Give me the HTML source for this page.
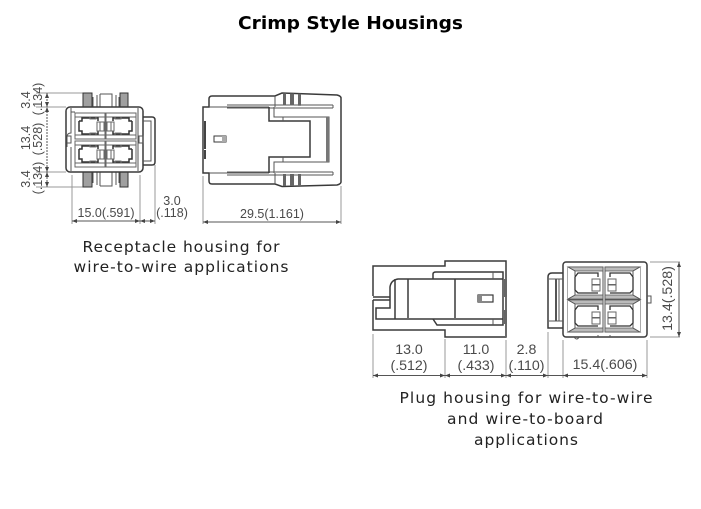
<!DOCTYPE html>
<html><head><meta charset="utf-8"><style>
html,body{margin:0;padding:0;background:#fff;width:701px;height:509px;overflow:hidden}
svg{display:block}
.t{font-family:"DejaVu Sans",sans-serif;font-size:15.500px;fill:#222}
.d{font-family:"Liberation Sans",sans-serif;font-size:12.5px;fill:#4a4a4a}
.e{font-family:"Liberation Sans",sans-serif;font-size:14.2px;fill:#4a4a4a}
.l{fill:none;stroke:#555;stroke-width:1}
.h{fill:none;stroke:#3a3a3a;stroke-width:1.5}
.g{fill:none;stroke:#999;stroke-width:1}
.a{fill:#444;stroke:none}
</style></head><body>
<svg width="701" height="509" viewBox="0 0 701 509" xmlns="http://www.w3.org/2000/svg">
<defs>
<g id="c1">
  <rect x="0" y="0" width="30" height="26" fill="none" stroke="#666" stroke-width="1"/>
  <path d="M0 4H30M0 22H30" fill="none" stroke="#666" stroke-width="1"/>
  <path d="M4 8H7V5H23V8M4 8V18H7V21H23V18" fill="none" stroke="#333" stroke-width="1.5"/>
  <rect x="22" y="9" width="7" height="9" fill="none" stroke="#666"/>
  <path d="M25 9V18" stroke="#666"/>
  <path d="M15 4V6H21V4M15 22V20H21V22" fill="none" stroke="#777"/>
</g>
<g id="c2">
  <rect x="0" y="0" width="35" height="32" fill="none" stroke="#555" stroke-width="1"/>
  <path d="M0 0L7 4H35V0ZM0 32L7 28H35V32Z" fill="#bbb" stroke="#555" stroke-width=".8"/>
  <path d="M0 0L7 4V28L0 32" fill="#fff" stroke="#555" stroke-width="1"/>
  <path d="M7 10L10 6H30V10M7 10V23L10 26H30" fill="none" stroke="#333" stroke-width="1.3"/>
  <rect x="24" y="12" width="8" height="5.500" fill="none" stroke="#666"/>
  <rect x="24" y="18" width="8" height="6" fill="none" stroke="#666"/>
</g>
</defs>

<text x="350.500" y="29" text-anchor="middle" font-family="'DejaVu Sans',sans-serif" font-weight="bold" font-size="18" fill="#000" textLength="225" lengthAdjust="spacingAndGlyphs">Crimp Style Housings</text>

<!-- left front view -->
<g>
  <path class="g" d="M36 93H83M36 107H66M36 172H66M36 187H83"/>
  <path class="l" d="M47 93V187" stroke-dasharray="2 1"/>
  <path d="M47 93l-2 5h4zM47 107l-2-5h4zM47 107l-2 5h4zM47 172l-2-5h4zM47 172l-2 5h4zM47 187l-2-5h4z" class="a"/>
  <rect x="83" y="93" width="9" height="14" fill="#a0a0a0" stroke="#333"/>
  <rect x="120" y="93" width="8" height="14" fill="#a0a0a0" stroke="#333"/>
  <rect x="83" y="172" width="9" height="15" fill="#a0a0a0" stroke="#333"/>
  <rect x="120" y="172" width="8" height="15" fill="#a0a0a0" stroke="#333"/>
  <path class="l" d="M93 97V107M97 95V107M100 94H112V107M100 94V107M116 95V107M119 97V107"/>
  <path class="l" d="M93 172V183M97 172V185M100 186H112V172M100 186V172M116 172V185M119 172V183"/>
  <rect x="66" y="107" width="77" height="65" rx="4" fill="none" stroke="#3a3a3a" stroke-width="1.5"/>
  <path class="l" d="M71 108V133Q67 133 67 137V147M71 147V171M71 112H75"/>
  <rect x="67" y="136" width="4" height="7" class="l"/>
  <rect x="139" y="136" width="4" height="7" class="l"/>
  <path class="l" d="M138 108V171"/>
  <path class="h" d="M143 117H152Q155 117 155 120V162Q155 165 152 165H143"/>
  <path class="l" d="M143 121H151V161H143"/>
  <use href="#c1" x="75" y="113"/>
  <g transform="translate(136 113) scale(-1 1)"><use href="#c1"/></g>
  <use href="#c1" x="75" y="141"/>
  <g transform="translate(136 141) scale(-1 1)"><use href="#c1"/></g>
</g>
<!-- left dims -->
<text class="d" transform="translate(30 100) rotate(-90)" text-anchor="middle">3.4</text>
<text class="d" transform="translate(42 99) rotate(-90)" text-anchor="middle">(.134)</text>
<text class="d" transform="translate(30 138) rotate(-90)" text-anchor="middle">13.4</text>
<text class="d" transform="translate(42 139) rotate(-90)" text-anchor="middle">(.528)</text>
<text class="d" transform="translate(30 179) rotate(-90)" text-anchor="middle">3.4</text>
<text class="d" transform="translate(42 178) rotate(-90)" text-anchor="middle">(.134)</text>
<path class="g" d="M72 175V224M140 175V224M155 165V224"/>
<path class="l" d="M72 221H155"/>
<path class="a" d="M72 221l5-2v4zM140 221l-5-2v4zM140 221l5-2v4zM155 221l-5-2v4z"/>
<text class="d" x="106" y="217" text-anchor="middle">15.0(.591)</text>
<text class="d" x="172" y="205" text-anchor="middle">3.0</text>
<text class="d" x="172" y="217" text-anchor="middle">(.118)</text>

<!-- side view -->
<g>
  <path class="h" d="M203 107H209V99Q209 96 212 96H275L282 93L337 95Q341 96 341 98V182Q341 184 337 185L282 186.500L275 184H212Q209 184 209 181V173H203Z"/>
  <path class="l" d="M227 105H333M227 108H333M227 172H333M227 175H333M333 105V108M333 172V175"/>
  <path class="l" d="M209 107H269M209 173H269"/>
  <path class="l" d="M275 96V107M275 184V173"/>
  <path d="M283 93.300h3v12h-3zM290 93.500h4v12h-4zM298 93.700h3v12h-3zM283 174h3v12h-3zM290 174h4v12h-4zM298 174h3v12h-3z" fill="#666"/>
  <path class="h" d="M269 107V121H310V157H269V173"/>
  <path class="l" d="M274 107V117H283V121M274 173V162H283V157"/>
  <path class="l" d="M283 117H329V162H283"/>
  <rect x="326" y="117" width="3" height="45" fill="#777"/>
  <rect x="214" y="136" width="12" height="6" fill="none" stroke="#3a3a3a" stroke-width="1"/>
  <rect x="222" y="136" width="4" height="6" fill="#aaa"/>
  <path class="a" d="M204 121h2v28h-2zM204 150h2v9h-2z"/>
</g>
<path class="g" d="M203 176V224M341 186V224"/>
<path class="l" d="M203 222H341"/>
<path class="a" d="M203 222l5-2v4zM341 222l-5-2v4z"/>
<text class="d" x="272" y="218" text-anchor="middle">29.5(1.161)</text>

<text class="t" x="181" y="252" text-anchor="middle" textLength="197">Receptacle housing for</text>
<text class="t" x="181" y="272" text-anchor="middle" textLength="215">wire-to-wire applications</text>

<!-- plug side -->
<g>
  <path class="h" d="M373 296V266H445V261H506V337H445V330H373V300"/>
  <path class="h" d="M373 297H390M373 300H390"/>
  <path class="h" d="M390 297V308H376V319H395M390 297V287Q391 280 398 279H503M395 279V319M395 319H503"/>
  <path class="h" d="M408 279V318M455 279V318"/>
  <path class="h" d="M433 279V274Q433 272 436 272H503V325H437L433 319"/>
  <path class="l" d="M493 272V279M493 319V325"/>
  <rect x="478" y="295" width="15" height="7" fill="none" stroke="#3a3a3a" stroke-width="1.2"/>
  <rect x="478" y="295" width="4" height="7" fill="#888"/>
  <path d="M504 279h3v18h-3zM504 310h3v14h-3zM480 336h26v2h-26z" fill="#666"/>
</g>
<path class="g" d="M373 334V378M445 339V378M506 340V378M548 332V378M563 340V378M647 340V378"/>
<path class="l" d="M373 375.500H647"/>
<path class="a" d="M373 375.500l5-2v4zM445 375.500l-5-2v4zM445 375.500l5-2v4zM506 375.500l-5-2v4zM506 375.500l5-2v4zM548 375.500l-5-2v4zM563 375.500l5-2v4zM647 375.500l-5-2v4z"/>
<text class="e" x="409" y="354" text-anchor="middle">13.0</text>
<text class="e" x="409" y="370" text-anchor="middle">(.512)</text>
<text class="e" x="476" y="354" text-anchor="middle">11.0</text>
<text class="e" x="476" y="370" text-anchor="middle">(.433)</text>
<text class="e" x="526.500" y="354" text-anchor="middle">2.8</text>
<text class="e" x="526.500" y="370" text-anchor="middle">(.110)</text>
<text class="e" x="605" y="369" text-anchor="middle">15.4(.606)</text>

<!-- plug front -->
<g>
  <rect x="563" y="262" width="84" height="75" rx="3" fill="none" stroke="#3a3a3a" stroke-width="1.5"/>
  <path class="h" d="M563 273H552Q548 273 548 277V328H563"/>
  <path class="l" d="M549 279H563M549 321H563M559 279V321"/>
  <path d="M555 279h2v42h-2z" fill="#555"/>
  <use href="#c2" x="568" y="267"/>
  <g transform="translate(640 267) scale(-1 1)"><use href="#c2"/></g>
  <use href="#c2" x="568" y="300"/>
  <g transform="translate(640 300) scale(-1 1)"><use href="#c2"/></g>
  <path class="l" d="M647 296H651V303H647M574 337Q577 341 579 337M598 335V337M610 335V337"/>
</g>
<path class="g" d="M650 262H680M650 337H680"/>
<path class="l" d="M679 262V337"/>
<path class="a" d="M679 262l-2 5h4zM679 337l-2-5h4z"/>
<text class="e" transform="translate(672 298.500) rotate(-90)" text-anchor="middle">13.4(.528)</text>

<text class="t" x="526" y="403" text-anchor="middle" textLength="253">Plug housing for wire-to-wire</text>
<text class="t" x="525" y="424" text-anchor="middle" textLength="156">and wire-to-board</text>
<text class="t" x="526" y="445" text-anchor="middle" textLength="104">applications</text>
</svg>
</body></html>
